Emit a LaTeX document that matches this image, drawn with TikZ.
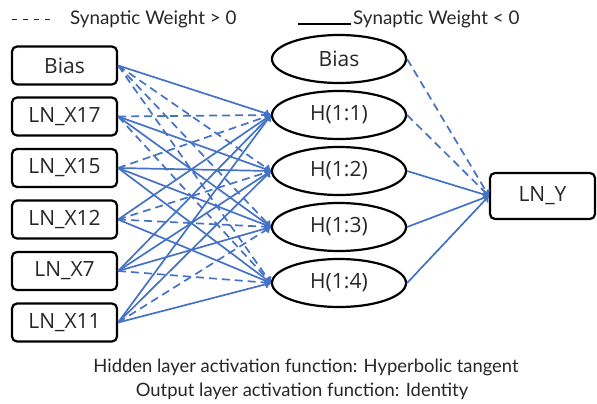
\documentclass[tikz,border=0pt]{standalone}
\usepackage{fontspec}
\setmainfont{Lato}
\newfontfamily\nodefont{Open Sans}
\usetikzlibrary{shapes.geometric,arrows.meta}
\definecolor{linkblue}{HTML}{4472C4}
\definecolor{inkgray}{HTML}{262626}
\begin{document}
\begin{tikzpicture}[x=1pt,y=-1pt,
  lbl/.style={font=\nodefont\fontsize{21}{24}\selectfont, text=inkgray, inner sep=0pt},
  inbox/.style={lbl, draw=black, line width=2.2pt, rounded corners=5pt,
    minimum width=105pt, minimum height=38pt},
  hid/.style={lbl, ellipse, draw=black, line width=2.2pt,
    minimum width=134pt, minimum height=48pt},
  link/.style={draw=linkblue, line width=1.7pt, -{To[length=6pt,width=8pt]}},
  wpos/.style={dash pattern=on 8pt off 5pt},
  wneg/.style={solid},
  note/.style={font=\fontsize{18.4}{20}\selectfont, text=inkgray, inner sep=0pt},
  legnote/.style={font=\fontsize{18.8}{21}\selectfont, text=inkgray, inner sep=0pt}
]
\useasboundingbox (0,0) rectangle (597,404);

% legend
\coordinate (dA) at (12,20);
\coordinate (dB) at (50,20);
\draw[line width=1pt, inkgray, dash pattern=on 5pt off 6pt] (dA) -- (dB);
\node[legnote, anchor=west] (legpos) at (70,19) {Synaptic Weight > 0};
\coordinate (sA) at (298,24);
\coordinate (sB) at (351,24);
\draw[line width=1.3pt, black] (sA) -- (sB);
\node[legnote, anchor=west] (legneg) at (353,19) {Synaptic Weight < 0};

% input layer
\node[inbox] (ib)  at (64.5,65.5)  {Bias};
\node[inbox] (x17) at (64.5,116.5) {LN\_X17};
\node[inbox] (x15) at (64.5,168)   {LN\_X15};
\node[inbox] (x12) at (64.5,219.5) {LN\_X12};
\node[inbox] (x7)  at (64.5,271)   {LN\_X7};
\node[inbox] (x11) at (64.5,322.5) {LN\_X11};

% hidden layer
\node[hid] (hb) at (339,59)  {Bias};
\node[hid] (h1) at (339,115) {H(1:1)};
\node[hid] (h2) at (339,171) {H(1:2)};
\node[hid] (h3) at (339,227) {H(1:3)};
\node[hid] (h4) at (339,283) {H(1:4)};

% output layer
\node[inbox, minimum height=46pt] (y) at (542.5,196) {LN\_Y};

% input -> hidden weights
\foreach \s/\t/\w in {
  ib/h1/wneg, ib/h2/wpos, ib/h3/wpos, ib/h4/wpos,
  x17/h1/wpos, x17/h2/wneg, x17/h3/wneg, x17/h4/wpos,
  x15/h1/wpos, x15/h2/wneg, x15/h3/wneg, x15/h4/wneg,
  x12/h1/wneg, x12/h2/wpos, x12/h3/wpos, x12/h4/wneg,
  x7/h1/wneg, x7/h2/wneg, x7/h3/wneg, x7/h4/wpos,
  x11/h1/wneg, x11/h2/wneg, x11/h3/wpos, x11/h4/wneg}
  \draw[link,\w] (\s.east) -- (\t.west);

% hidden -> output weights
\foreach \s/\w in {hb/wpos, h1/wpos, h2/wneg, h3/wneg, h4/wneg}
  \draw[link,\w] (\s.east) -- (y.west);

% activation functions
\node[note] (act1) at (306,367) {Hidden layer activation function: Hyperbolic tangent};
\node[note] (act2) at (302,391) {Output layer activation function: Identity};
\end{tikzpicture}
\end{document}
